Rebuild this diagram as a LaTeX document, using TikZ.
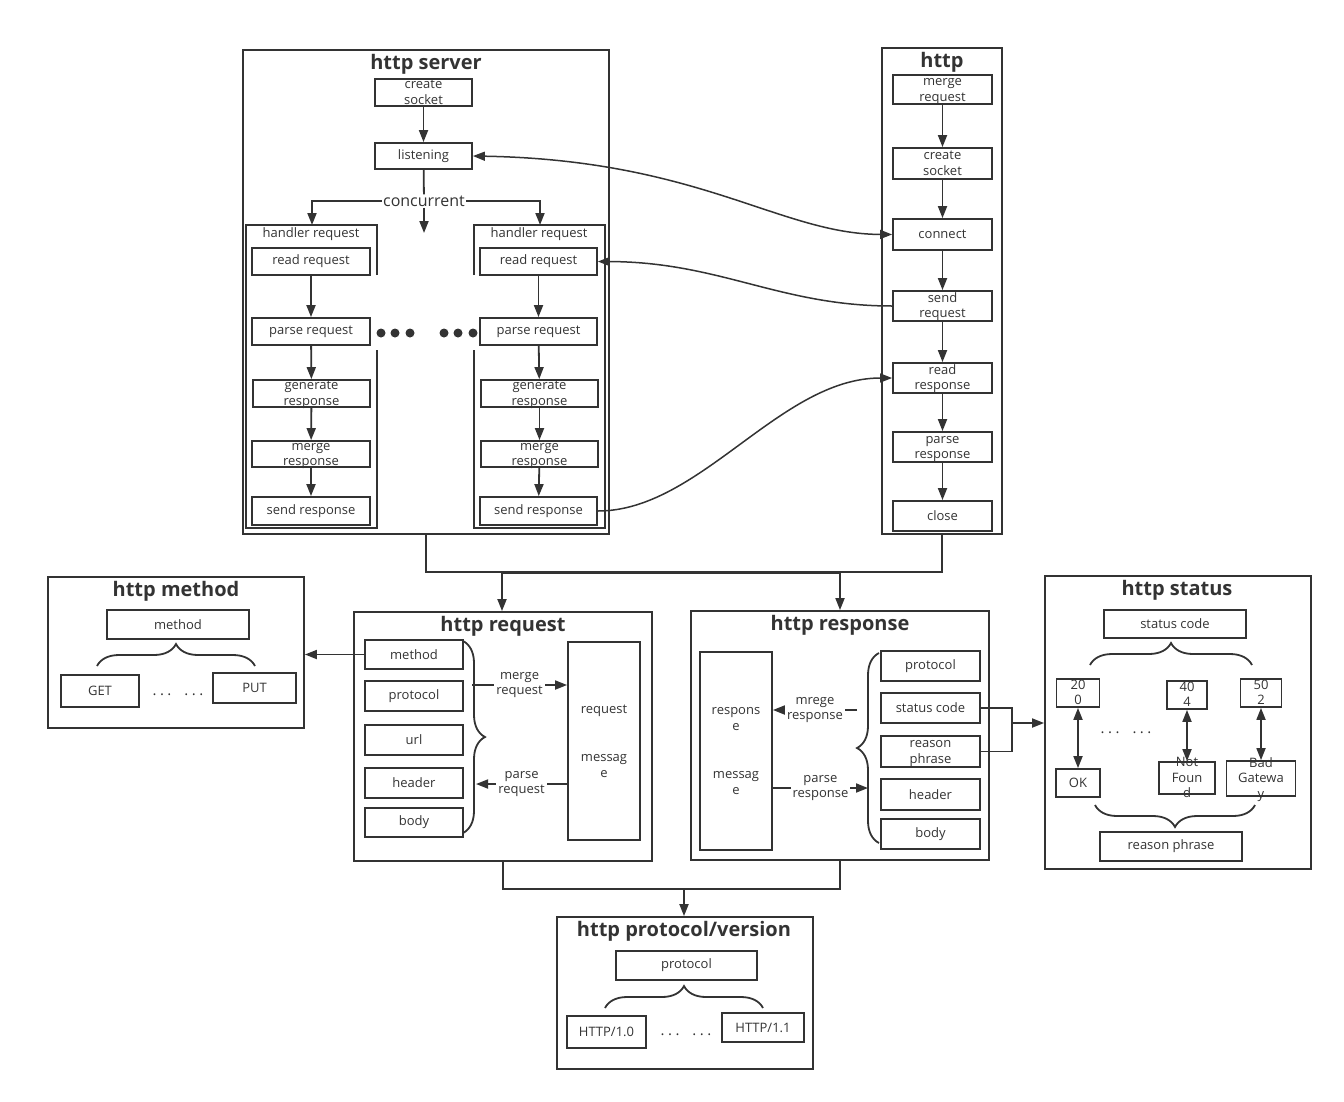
\documentclass[tikz,border=0pt]{standalone}
\usepackage{fontspec}
\setmainfont{Open Sans}
\usetikzlibrary{arrows.meta, positioning, calc, decorations.pathreplacing}
\definecolor{ink}{RGB}{51, 51, 51}
\newcommand{\ovl}[1]{%
    \raisebox{-.3em}[0pt][0pt]{%
    \begin{tabular}{@{}c@{}}#1\end{tabular}}%
}
\newcommand{\elli}{.\hspace{3.5pt}.\hspace{3.5pt}.}

\begin{document}
\begin{tikzpicture}[
    x=1pt, y=-1pt,
    every node/.style={text=ink},
    sz/.style 2 args={minimum width=#1pt,
                      minimum height=#2pt},
    bx/.style={draw=ink, line width=1.8pt,
               inner sep=0pt,
               font=\fontsize{13}{15.5}\selectfont},
    outer/.style={draw=ink, line width=1.8pt,
                  inner sep=0pt},
    ttl/.style={inner sep=0pt,
                font=\fontsize{20}{23}\bfseries\selectfont},
    lbl/.style={inner sep=2pt, align=center,
                font=\fontsize{13}{15.5}\selectfont},
    dots/.style={inner sep=0pt,
                 font=\fontsize{15}{18}\selectfont},
    ln/.style={draw=ink, line width=1.8pt},
    arr/.style={ln, -{Triangle[length=12pt, width=9pt]}},
    dbl/.style={ln, {Triangle[length=12pt, width=9pt]}-{Triangle[length=12pt, width=9pt]}},
    brc/.style={ln, decorate,
                decoration={brace, amplitude=22pt}},
]
\useasboundingbox (0,0) rectangle (1344,1101);

% -- http server ----------------------------
\node[outer, sz={366}{484}] (srv) at (426,292) {};
\node[ttl] (srvt) at (426,64) {http server};
\node[bx, sz={97}{27}] (ssock) at (423.5,92.5) {\ovl{create\\socket}};
\node[bx, sz={97}{26}] (listen) at (423.5,156) {listening};
\node[inner sep=1pt, font=\fontsize{16}{18}\selectfont]
    (conc) at (424,201) {concurrent};
\coordinate (hltop) at (312,225);
\coordinate (hrtop) at (540,225);
\coordinate (concend) at (424,233);

% handler frames (open on the inner side)
\draw[ln] (377,275) -- (377,225) -- (246,225) -- (246,528)
    -- (377,528) -- (377,350);
\draw[ln] (474,275) -- (474,225) -- (605,225) -- (605,528)
    -- (474,528) -- (474,350);
\node[lbl] (hlt) at (311,234) {handler request};
\node[lbl] (hrt) at (539,234) {handler request};

\node[bx, sz={118}{27}] (lread)  at (311,261.5) {read request};
\node[bx, sz={118}{27}] (lparse) at (311,331.5) {parse request};
\node[bx, sz={117}{27}] (lgen)   at (311.5,393.5) {\ovl{generate\\response}};
\node[bx, sz={118}{26}] (lmerge) at (311,454) {\ovl{merge\\response}};
\node[bx, sz={118}{28}] (lsend)  at (311,511) {send response};

\node[bx, sz={117}{27}] (rread)  at (538.5,261.5) {read request};
\node[bx, sz={117}{27}] (rparse) at (538.5,331.5) {parse request};
\node[bx, sz={117}{27}] (rgen)   at (539.5,393.5) {\ovl{generate\\response}};
\node[bx, sz={117}{26}] (rmerge) at (539.5,454) {\ovl{merge\\response}};
\node[bx, sz={117}{28}] (rsend)  at (538.5,511) {send response};

\foreach \x in {381,395,410,444,458,473}
    \fill[ink] (\x,333) circle (4.5pt);

\draw[arr] (ssock) -- (listen);
\draw[ln] (listen) -- (conc);
\draw[arr] (conc.west) -| (hltop);
\draw[arr] (conc.east) -| (hrtop);
\draw[arr] (conc.south) -- (concend);
\foreach \a/\b in {lread/lparse, lparse/lgen, lgen/lmerge,
                   lmerge/lsend, rread/rparse, rparse/rgen,
                   rgen/rmerge, rmerge/rsend}
    \draw[arr] (\a) -- (\b);

% -- http (client) --------------------------
\node[outer, sz={120}{486}] (cli) at (942,291) {};
\node[ttl] (clit) at (942,62) {http};
\node[bx, sz={99}{29}] (cmerge) at (942.5,89.5) {\ovl{merge\\request}};
\node[bx, sz={99}{31}] (csock)  at (942.5,163.5) {\ovl{create\\socket}};
\node[bx, sz={99}{31}] (ccon)   at (942.5,234.5) {connect};
\node[bx, sz={99}{30}] (csend)  at (942.5,306) {\ovl{send\\request}};
\node[bx, sz={99}{30}] (cread)  at (942.5,378) {\ovl{read\\response}};
\node[bx, sz={99}{30}] (cparse) at (942.5,447) {\ovl{parse\\response}};
\node[bx, sz={99}{30}] (cclose) at (942.5,516) {close};
\foreach \a/\b in {cmerge/csock, csock/ccon, ccon/csend,
                   csend/cread, cread/cparse, cparse/cclose}
    \draw[arr] (\a) -- (\b);

% -- server <-> client curves ---------------
\draw[dbl, line width=1.5pt] (listen.east)
    .. controls (700,160) and (780,234) .. (ccon.west);
\draw[arr, line width=1.5pt] (csend.west)
    .. controls (780,306) and (720,262) .. (rread.east);
\draw[arr, line width=1.5pt] (rsend.east)
    .. controls (700,511) and (780,378) .. (cread.west);

% -- http request ---------------------------
\node[outer, sz={298}{249}] (req) at (503,736.5) {};
\node[ttl] (reqt) at (503,626) {http request};
\node[bx, sz={98}{29}] (qmeth) at (414,654.5) {method};
\node[bx, sz={98}{30}] (qprot) at (414,696) {protocol};
\node[bx, sz={98}{30}] (qurl)  at (414,740) {url};
\node[bx, sz={98}{30}] (qhead) at (414,783) {header};
\node[bx, sz={98}{29}] (qbody) at (414,822.5) {body};
\node[bx, sz={72}{198}, align=center,
      font=\fontsize{13}{16}\selectfont]
    (qmsg) at (604,741) {request\\[32pt]messag\\e};
\draw[brc] (463,641) -- (463,833);
\coordinate (qbr1) at (472,685);
\coordinate (qbr2) at (476,784);
\draw[arr] (qbr1) -- node[lbl, fill=white]
    {merge\\request} (qmsg.west |- qbr1);
\draw[arr] (qmsg.west |- qbr2) -- node[lbl, fill=white]
    {parse\\request} (qbr2);

% -- http response --------------------------
\node[outer, sz={298}{249}] (resp) at (840,735.5) {};
\node[ttl] (respt) at (840,625) {http response};
\node[bx, sz={72}{198}, align=center,
      font=\fontsize{13}{16}\selectfont]
    (smsg) at (736,751) {respons\\e\\[32pt]messag\\e};
\node[bx, sz={99}{30}] (sprot) at (930.5,666) {protocol};
\node[bx, sz={99}{30}] (scode) at (930.5,708) {status code};
\node[bx, sz={99}{31}] (sreas) at (930.5,751.5) {\ovl{reason\\phrase}};
\node[bx, sz={99}{31}] (shead) at (930.5,794.5) {header};
\node[bx, sz={99}{30}] (sbody) at (930.5,834) {body};
\draw[brc] (879,843) -- (879,653);
\coordinate (sbr1) at (857,710);
\coordinate (sbr2) at (868,788);
\draw[arr] (sbr1) -- node[lbl, fill=white]
    {mrege\\response} (smsg.east |- sbr1);
\draw[arr] (smsg.east |- sbr2) -- node[lbl, fill=white]
    {parse\\response} (sbr2);

% -- request / response feeds ---------------
\coordinate (j1) at (502,572);
\coordinate (j2) at (840,572);
\draw[ln] (srv.south) |- (j1);
\draw[ln] (cli.south) |- (j2);
\draw[ln, line width=3pt] (j1) -- (j2);
\draw[arr] (j1) -- (j1 |- req.north);
\draw[arr] (j2) -- (j2 |- resp.north);

% -- http method ----------------------------
\node[outer, sz={256}{151}] (mth) at (176,652.5) {};
\node[ttl] (mtht) at (176,591) {http method};
\node[bx, sz={142}{29}] (mmeth) at (178,624.5) {method};
\draw[brc] (97,666) -- (255,666);
\node[bx, sz={78}{32}] (mget) at (100,691) {GET};
\node[bx, sz={83}{30}] (mput) at (254.5,688) {PUT};
\node[dots] (mdots) at (178,695) {\elli\hspace{13pt}\elli};
\draw[arr] (qmeth.west) -- (qmeth.west -| mth.east);

% -- http status ----------------------------
\node[outer, sz={266}{293}] (stat) at (1178,722.5) {};
\node[ttl] (statt) at (1177,590) {http status};
\node[bx, sz={142}{28}] (stcode) at (1175,624) {status code};
\draw[brc] (1090,665) -- (1252,665);
\begin{scope}[every node/.append style={font=\fontsize{14}{16}\selectfont}]
\node[bx, sz={43}{28}] (c200) at (1078,693) {\ovl{20\\0}};
\node[bx, sz={40}{28}] (c404) at (1187,695) {\ovl{40\\4}};
\node[bx, sz={41}{28}] (c502) at (1261,693) {\ovl{50\\2}};
\node[bx, sz={44}{28}] (rok)  at (1078,783) {OK};
\node[bx, sz={56}{32}] (rnf)  at (1187,778) {\ovl{Not\\Foun\\d}};
\node[bx, sz={69}{35}] (rbg)  at (1261,778.5) {\ovl{Bad\\Gatewa\\y}};
\end{scope}
\draw[dbl] (c200) -- (rok);
\draw[dbl] (c404) -- (rnf);
\draw[dbl] (c502) -- (rbg);
\node[dots] (sdots) at (1126,733) {\elli\hspace{13pt}\elli};
\draw[brc] (1255,805) -- (1095,805);
\node[bx, sz={142}{29}] (rphr) at (1171,846.5) {reason phrase};

\coordinate (sj) at (1012,723);
\draw[ln] (scode.east) -- (scode.east -| sj)
    -- (sreas.east -| sj) -- (sreas.east);
\draw[arr] (sj) -- (sj -| stat.west);

% -- http protocol/version ------------------
\node[outer, sz={256}{152}] (prot) at (685,993) {};
\node[ttl] (prott) at (684,931) {http protocol/version};
\node[bx, sz={141}{29}] (pprot) at (686.5,965.5) {protocol};
\draw[brc] (605,1008) -- (763,1008);
\node[bx, sz={79}{32}] (p10) at (606.5,1032) {HTTP/1.0};
\node[bx, sz={82}{29}] (p11) at (763,1027.5) {HTTP/1.1};
\node[dots] (pdots) at (686,1035) {\elli\hspace{13pt}\elli};

\coordinate (j3) at (684,889);
\draw[ln] (req.south) |- (resp.south |- j3) -- (resp.south);
\draw[arr] (j3) -- (j3 |- prot.north);

\end{tikzpicture}
\end{document}
